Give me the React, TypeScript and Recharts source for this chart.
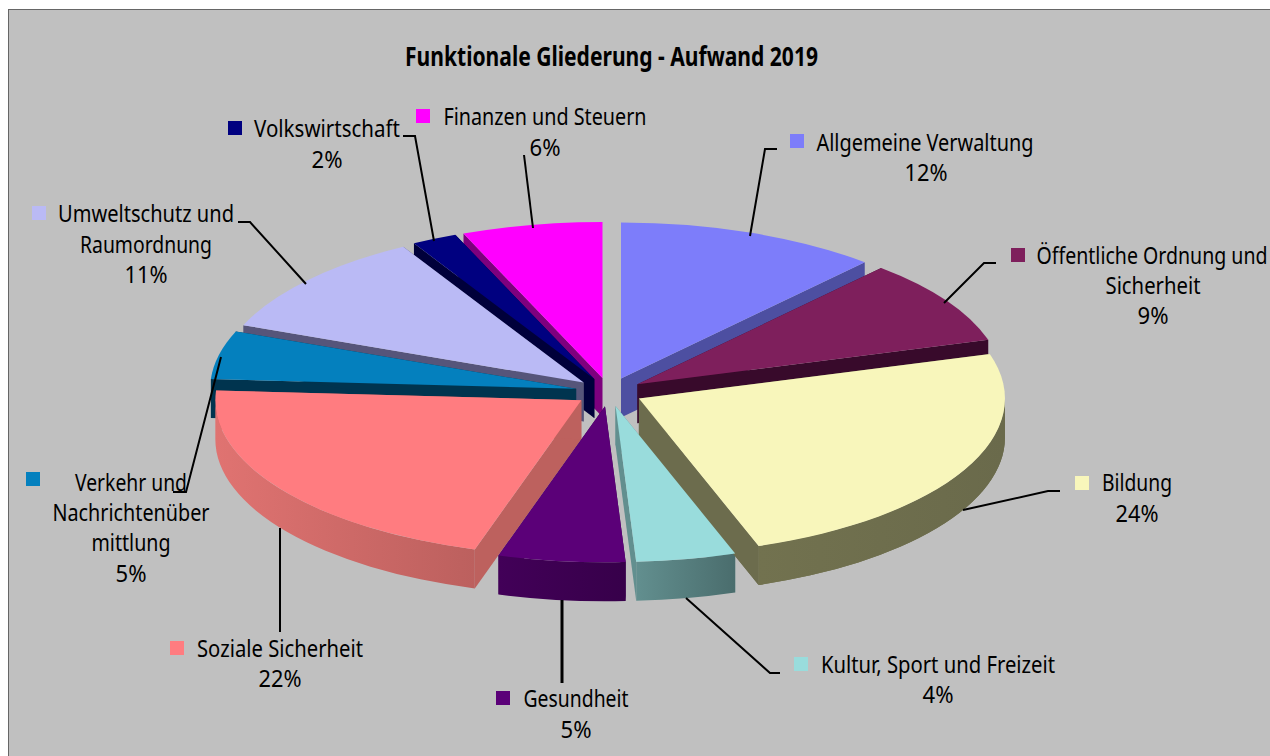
import { Pie, PieChart } from 'recharts';

// slices clockwise from 12 o'clock
const names = [
  'Allgemeine Verwaltung',
  'Öffentliche Ordnung und Sicherheit',
  'Bildung',
  'Kultur, Sport und Freizeit',
  'Gesundheit',
  'Soziale Sicherheit',
  'Verkehr und Nachrichtenübermittlung',
  'Umweltschutz und Raumordnung',
  'Volkswirtschaft',
  'Finanzen und Steuern',
];
const values = [11.6, 8.8, 24.3, 4.4, 5.6, 21.3, 5.0, 10.8, 2.0, 6.2];
const percentLabels = ['12%', '9%', '24%', '4%', '5%', '22%', '5%', '11%', '2%', '6%'];
const labelLines = [
  ['Allgemeine Verwaltung'],
  ['Öffentliche Ordnung und', 'Sicherheit'],
  ['Bildung'],
  ['Kultur, Sport und Freizeit'],
  ['Gesundheit'],
  ['Soziale Sicherheit'],
  ['Verkehr und', 'Nachrichtenüber', 'mittlung'],
  ['Umweltschutz und', 'Raumordnung'],
  ['Volkswirtschaft'],
  ['Finanzen und Steuern'],
];

const topColors = ['#7D7DFA', '#7E1F5C', '#F8F6BB', '#99DCDC', '#5B0078', '#FF7C80', '#0480BE', '#BABAF5', '#000080', '#FF00FF'];
const wallColors = ['#4D4FA1', '#380A2B', '#6C6C4D', '#628F8F', '#3C0050', '#BD615E', '#00344F', '#56557A', '#00003A', '#7E007E'];
const sideFrom = ['#4D4FA1', '#380A2B', '#72724F', '#628F8F', '#420058', '#E07371', '#00507A', '#56557A', '#00003A', '#7E007E'];
const sideTo = ['#4D4FA1', '#380A2B', '#6A6A4B', '#4A6D6D', '#37004A', '#BC605E', '#00507A', '#56557A', '#00003A', '#7E007E'];

const chartData = names.map((name, i) => ({ name, value: values[i] }));
// walls overlap in paint order: this pie runs counter-clockwise and starts at the end of the first slice
const wallData = [chartData[0], ...chartData.slice(1).reverse()];
const total = values.reduce((sum, v) => sum + v, 0);
const wallStart = 90 - (values[0] / total) * 360;

// label placement: legend key, center x and width of every line, first baseline, leader line
const labelLayout = [
  { key: [790, 134], cx: [925, 926], w: [217, 43], y: [151, 181], leader: '777,149 765,149 750,236' },
  { key: [1011, 248], cx: [1152, 1153, 1153], w: [231, 95, 31], y: [264, 294, 324], leader: '996,263 984,263 944,303' },
  { key: [1075, 476], cx: [1137, 1137], w: [70, 43], y: [491, 522], leader: '1060,491 1048,491 963,510' },
  { key: [794, 657], cx: [938, 938], w: [234, 31], y: [673, 703], leader: '780,673 770,673 686,598' },
  { key: [496, 691], cx: [576, 576], w: [105, 31], y: [707, 738], leader: '562,600 562,683' },
  { key: [170, 641], cx: [280, 280], w: [166, 43], y: [657, 687], leader: '280,528 280,632' },
  { key: [26, 472], cx: [131, 131, 131, 131], w: [112, 157, 79, 31], y: [491, 521, 551, 582], leader: '221,357 186,492 173,492' },
  { key: [32, 206], cx: [146, 146, 146], w: [176, 132, 43], y: [222, 253, 283], leader: '238,222 250,222 306,284' },
  { key: [228, 121], cx: [327, 327], w: [146, 31], y: [137, 168], leader: '403,136 415,136 434,241' },
  { key: [416, 109], cx: [545, 545], w: [203, 31], y: [125, 156], leader: '524,155 533,228' },
];

const PIE_CX = 609;
const PIE_CY = 392;
const RADIUS_X = 366;
const SQUASH = 156 / 366;
const EXPLODE = 0.092;
const DEPTH = 39;
const FONT = '"Noto Sans", sans-serif';

const rad = (deg: number) => (deg * Math.PI) / 180;

// recharts hands over circular angles, they get projected onto the tilted ellipse here
const sliceGeometry = (props: any) => {
  const rx = props.outerRadius;
  const ry = rx * SQUASH;
  let from = 90 - Math.max(props.startAngle, props.endAngle);
  let to = 90 - Math.min(props.startAngle, props.endAngle);
  if (to <= 0) {
    from += 360;
    to += 360;
  }
  const mid = (from + to) / 2;
  const ox = props.cx + EXPLODE * rx * Math.sin(rad(mid));
  const oy = props.cy - EXPLODE * ry * Math.cos(rad(mid));
  const at = (theta: number, down = 0) => `${ox + rx * Math.sin(rad(theta))},${oy - ry * Math.cos(rad(theta)) + down}`;
  return { rx, ry, from, to, apex: `${ox},${oy}`, apexDown: `${ox},${oy + DEPTH}`, at };
};

const sliceIndex = (props: any) => names.indexOf(props.name ?? props.payload?.name);

const SliceBody = (props: any) => {
  const i = sliceIndex(props);
  const { rx, ry, from, to, apex, apexDown, at } = sliceGeometry(props);
  const visFrom = Math.max(from, 90);
  const visTo = Math.min(to, 270);
  const gradId = `side-${i}`;
  return (
    <g>
      <defs>
        <linearGradient id={gradId} x1="0" y1="0" x2="1" y2="0">
          <stop offset="0%" stopColor={sideFrom[i]} />
          <stop offset="100%" stopColor={sideTo[i]} />
        </linearGradient>
      </defs>
      <path d={`M${apex} L${at(from)} L${at(from, DEPTH)} L${apexDown} Z`} fill={wallColors[i]} />
      <path d={`M${apex} L${at(to)} L${at(to, DEPTH)} L${apexDown} Z`} fill={wallColors[i]} />
      {visTo > visFrom && (
        <path
          d={`M${at(visFrom)} A${rx} ${ry} 0 0 1 ${at(visTo)} L${at(visTo, DEPTH)} A${rx} ${ry} 0 0 0 ${at(visFrom, DEPTH)} Z`}
          fill={`url(#${gradId})`}
        />
      )}
    </g>
  );
};

// Bildung has to sit in front of the wall of the slice before it
const FrontBody = (props: any) => (sliceIndex(props) === 2 ? <SliceBody {...props} /> : <g />);

const SliceTop = (props: any) => {
  const i = sliceIndex(props);
  const { rx, ry, from, to, apex, at } = sliceGeometry(props);
  const large = to - from > 180 ? 1 : 0;
  return <path d={`M${apex} L${at(from)} A${rx} ${ry} 0 ${large} 1 ${at(to)} Z`} fill={topColors[i]} />;
};

const renderLabel = (props: any) => {
  const i = props.index;
  const layout = labelLayout[i];
  const lines = [...labelLines[i], percentLabels[i]];
  return (
    <g key={names[i]}>
      <polyline points={layout.leader} fill="none" stroke="#000" strokeWidth={i === 4 ? 3 : 2} />
      <rect x={layout.key[0]} y={layout.key[1]} width={14} height={14} fill={topColors[i]} />
      {lines.map((line, n) => (
        <text
          key={line}
          x={layout.cx[n]}
          y={layout.y[n]}
          textAnchor="middle"
          fontFamily={FONT}
          fontSize={23}
          fill="#000"
          textLength={layout.w[n]}
          lengthAdjust="spacingAndGlyphs"
        >
          {line}
        </text>
      ))}
    </g>
  );
};

export default function App() {
  return (
    <div style={{ position: 'absolute', left: 0, top: 0, width: 1270, height: 756, background: '#fff', overflow: 'hidden' }}>
      <div
        style={{
          position: 'absolute',
          left: 8,
          top: 9,
          width: 1262,
          height: 747,
          background: '#C0C0C0',
          borderLeft: '1px solid #666',
          borderTop: '1px solid #666',
          boxSizing: 'border-box',
        }}
      />
      <div style={{ position: 'absolute', left: 0, top: 0 }}>
        <PieChart width={1270} height={756} margin={{ top: 0, right: 0, bottom: 0, left: 0 }}>
          <text
            x={611.5}
            y={66}
            textAnchor="middle"
            fontFamily={FONT}
            fontSize={27}
            fontWeight={700}
            fill="#000"
            textLength={413}
            lengthAdjust="spacingAndGlyphs"
          >
            Funktionale Gliederung - Aufwand 2019
          </text>
          <Pie
            data={wallData}
            dataKey="value"
            nameKey="name"
            cx={PIE_CX}
            cy={PIE_CY}
            outerRadius={RADIUS_X}
            startAngle={wallStart}
            endAngle={wallStart + 360}
            stroke="none"
            isAnimationActive={false}
            shape={SliceBody}
            activeShape={SliceBody}
            inactiveShape={SliceBody}
            legendType="none"
          />
          <Pie
            data={chartData}
            dataKey="value"
            nameKey="name"
            cx={PIE_CX}
            cy={PIE_CY}
            outerRadius={RADIUS_X}
            startAngle={90}
            endAngle={-270}
            stroke="none"
            isAnimationActive={false}
            shape={FrontBody}
            activeShape={FrontBody}
            inactiveShape={FrontBody}
            legendType="none"
          />
          <Pie
            data={chartData}
            dataKey="value"
            nameKey="name"
            cx={PIE_CX}
            cy={PIE_CY}
            outerRadius={RADIUS_X}
            startAngle={90}
            endAngle={-270}
            stroke="none"
            isAnimationActive={false}
            shape={SliceTop}
            activeShape={SliceTop}
            inactiveShape={SliceTop}
            label={renderLabel}
            labelLine={false}
            legendType="none"
          />
        </PieChart>
      </div>
    </div>
  );
}
